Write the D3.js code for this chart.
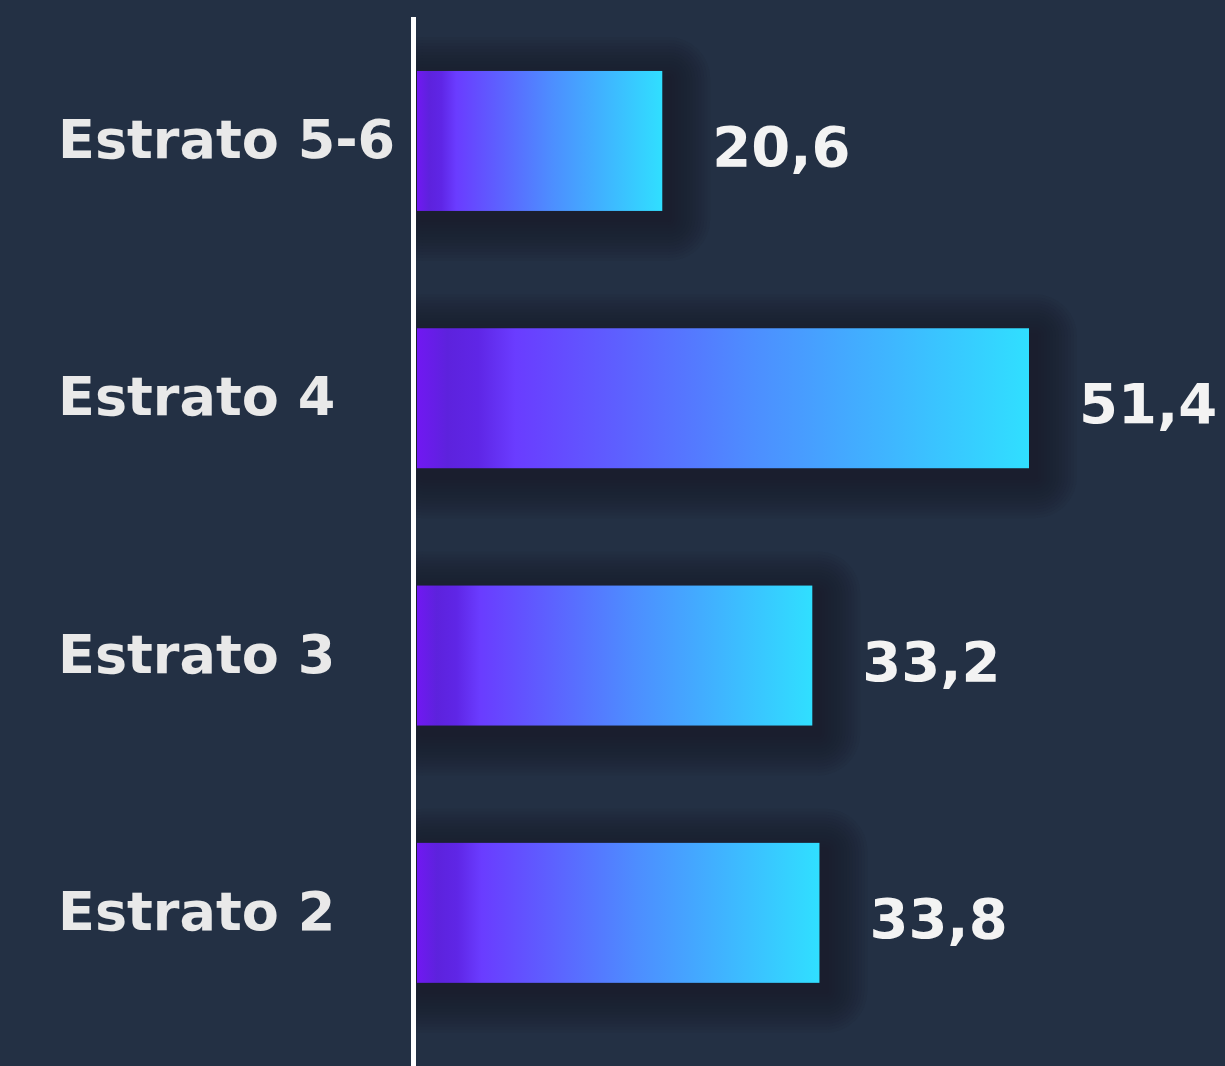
<!DOCTYPE html>
<html>
<head>
<meta charset="utf-8">
<script src="https://cdn.jsdelivr.net/npm/d3@7"></script>
<style>
  html, body { margin: 0; padding: 0; background: #233044; }
  svg { display: block; }
</style>
</head>
<body>
<div id="chart"></div>
<script>
const categories = ["Estrato 5-6", "Estrato 4", "Estrato 3", "Estrato 2"];
const values = [20.6, 51.4, 33.2, 33.8];
const valueLabels = ["20,6", "51,4", "33,2", "33,8"];

const W = 1225, H = 1066;
const svg = d3.select("#chart").append("svg").attr("width", W).attr("height", H);
svg.append("rect").attr("width", W).attr("height", H).attr("fill", "#233044");

const defs = svg.append("defs");
const grad = defs.append("linearGradient").attr("id", "barGrad")
  .attr("x1", "0%").attr("x2", "100%").attr("y1", "0%").attr("y2", "0%");
[[0, "#7118f2"], [0.05, "#5d22dd"], [0.1, "#5f26e6"], [0.16, "#6a3cff"], [0.55, "#4d8eff"], [1, "#30dfff"]]
  .forEach(([o, c]) => grad.append("stop").attr("offset", o).attr("stop-color", c));

const x = d3.scaleLinear().domain([0, 51.4]).range([417, 1029]);
const y = d3.scaleBand().domain(categories).range([19.5, 1034.3]).paddingInner(0.456).paddingOuter(0.2);

defs.append("clipPath").attr("id", "rightOfAxis")
  .append("rect").attr("x", x(0) - 6).attr("y", 0).attr("width", W).attr("height", H);

const data = categories.map((c, i) => ({ c, v: values[i], label: valueLabels[i] }));

// soft shadow built from stacked translucent rects
const layers = d3.range(1, 15);
const spread = 42, dx = 6, dy = 8;
const shadowG = svg.append("g").attr("clip-path", "url(#rightOfAxis)");
data.forEach(d => {
  const bx = x(0), by = y(d.c), bw = x(d.v) - x(0), bh = y.bandwidth();
  shadowG.append("g").selectAll("rect").data(layers).join("rect")
    .attr("x", i => bx + dx - spread * i / layers.length)
    .attr("y", i => by + dy - spread * i / layers.length)
    .attr("width", i => bw + 2 * spread * i / layers.length)
    .attr("height", i => bh + 2 * spread * i / layers.length)
    .attr("rx", i => spread * i / layers.length)
    .attr("fill", "#18212d")
    .attr("fill-opacity", 0.075);
});

svg.append("g").selectAll("rect").data(data).join("rect")
  .attr("x", x(0))
  .attr("y", d => y(d.c))
  .attr("width", d => x(d.v) - x(0))
  .attr("height", y.bandwidth())
  .attr("fill", "url(#barGrad)");

// axis line
svg.append("line")
  .attr("x1", x(0) - 3.5).attr("x2", x(0) - 3.5)
  .attr("y1", 17).attr("y2", H)
  .attr("stroke", "#ffffff").attr("stroke-width", 5);

const font = "'DejaVu Sans', sans-serif";

svg.append("g").selectAll("text").data(data).join("text")
  .attr("x", 58)
  .attr("y", d => y(d.c) + y.bandwidth() / 2 + 17)
  .attr("font-family", font).attr("font-weight", 700).attr("font-size", 54)
  .attr("fill", "#e9e9e9")
  .text(d => d.c);

svg.append("g").selectAll("text").data(data).join("text")
  .attr("x", d => x(d.v) + 50)
  .attr("y", d => y(d.c) + y.bandwidth() / 2 + 25)
  .attr("font-family", font).attr("font-weight", 700).attr("font-size", 56)
  .attr("fill", "#f3f3f3")
  .text(d => d.label);
</script>
</body>
</html>
